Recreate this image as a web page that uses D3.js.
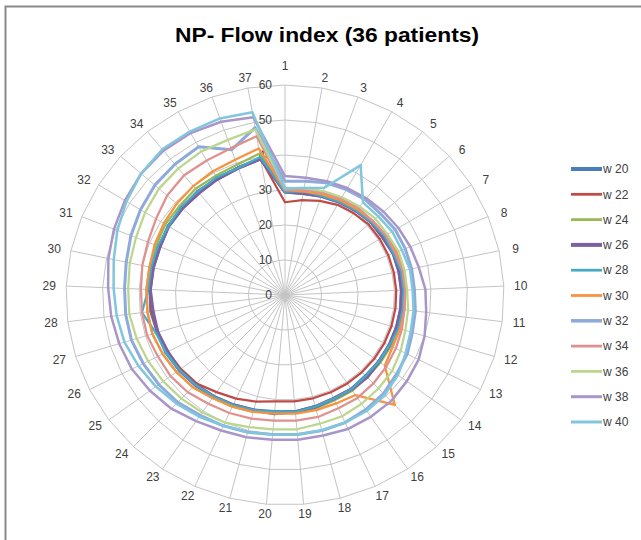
<!DOCTYPE html>
<html>
<head>
<meta charset="utf-8">
<script src="https://cdn.jsdelivr.net/npm/d3@7"></script>
<style>
  html, body { margin: 0; padding: 0; background: #fff; }
  svg text { font-family: "Liberation Sans", Arial, sans-serif; }
</style>
</head>
<body>
<svg id="chart" width="641" height="540"></svg>
<script>
// categories (spokes) 1..37
const categories = d3.range(1, 38).map(String);
const valueTicks = [0, 10, 20, 30, 40, 50, 60];
const seriesNames = ["w 20", "w 22", "w 24", "w 26", "w 28", "w 30", "w 32", "w 34", "w 36", "w 38", "w 40"];
const seriesColors = ["#4a7ebb", "#be4b48", "#98b954", "#7d60a0", "#46aac5", "#f69240",
                      "#8eaadb", "#e0908f", "#bcd68e", "#a996c9", "#80c6dc"];
const seriesWidths = [3.5, 2.25, 2.25, 3.5, 2.25, 2.25, 3, 2.25, 2.25, 2.5, 2.5];

// values, one per spoke
const w20 = [29.5,29.5,30,30.5,31,31.5,31.5,32,32,32,32,32,32,32,32,32.5,32.5,33,33.5,33.5,34,34.5,35,35.5,36,36.5,36.5,37,37,37,37,37.5,37.5,38,38,38.5,39.5];
const w22 = [26.5,27.5,28.5,29.5,30,30.5,30.5,30.5,30.5,30.5,30.5,30.5,30.5,30.5,30.5,30.5,30.5,30.5,30.5,30.5,31.5,32.5,33.5,35,35.5,36,36.5,37,37,37,37,37.5,37.5,38,38,38.5,39.5];
const w24 = [30,30,30.5,31,31.5,32,32,32.5,32.5,32.5,32.5,32.5,32.5,32.5,32.5,33,33,33.5,33.5,33.5,34.5,35,35.5,36.5,37,37.5,38,38,38,38,38,38.5,38.5,39,39,39.5,41];
const w26 = [29.5,29.5,30,30.5,31,31.5,31.5,32,32,32,32,32,32,32,32.5,32.5,32.5,33,33.5,34,34,34.5,35,35.5,36,36,36.5,36.5,37,37,37,37.5,37.5,37.5,38,38.5,39.5];
const w28 = [29.5,30,30,30.5,31,31.5,32,32,32.5,32.5,32.5,32.5,32,32,32,32.5,32.5,33,33.5,33.5,34,34.5,35,35.5,36,36.5,37,39.5,37.5,37.5,37.5,37.5,38,38,38.5,38.5,40];
const w30 = [30,30,30.5,31,31.5,32,32.5,33,33,33,33,33,33,34,43.5,34.5,34,34,34,34,34.5,35,35.5,36.5,37,37.5,38,38,38,38,38.5,39,39.5,40,40.5,41,42.5];
const w32 = [32.5,33,34,34.5,35,35,35.5,35.5,35.5,35.5,36,36.5,37.5,38,39,39.5,40,40,40,40,40.5,41,41.5,42.5,43,43.5,44,44,44,44.5,45.5,46.5,47.5,48,48.5,44,48.5];
const w34 = [30,30.5,31,31.5,32,32,32.5,32.5,33,33,33,33.5,34,34.5,35,35.5,35.5,36,36,36,36.5,37,37.5,38.5,39,39,39.5,39.5,39.5,40,40.5,41.5,43,44,44,44.5,46];
const w36 = [30.5,31,31.5,32,32.5,33,33,33.5,33.5,33.5,34,34.5,35.5,36.5,37,37.5,38,38,38.5,38.5,39,40,40.5,41,41.5,42,42.5,43,43,43.5,44,45,46,46.5,47,47,48];
const w38 = [34,34,34.5,35,35.5,36,36.5,37,37.5,38.5,39,40,41,41.5,42,42,42,41.5,41.5,41.5,42,42.5,43.5,45,46,47,47.5,48,48.5,49.5,50.5,51.5,52.5,53,53,52.5,51.5];
const w40 = [30.5,31,32.5,42.5,34,34,34.5,34.5,35,35,35.5,36,37,38.5,39.5,40,40,40,40,40,40.5,41,42,43,44,45,46,46.5,47,48,49.5,51,52.5,53.5,53.5,53.5,53];

const seriesValues = [w20, w22, w24, w26, w28, w30, w32, w34, w36, w38, w40];

const svg = d3.select("#chart");
const cx = 285, cy = 295;

// the plot is a little wider than tall
const rX = d3.scaleLinear().domain([0, 60]).range([0, 219]);
const rY = d3.scaleLinear().domain([0, 60]).range([0, 210]);
const angle = d3.scalePoint().domain(categories).range([0, 2 * Math.PI * 36 / 37]);

const px = (cat, v) => cx + rX(v) * Math.sin(angle(cat));
const py = (cat, v) => cy - rY(v) * Math.cos(angle(cat));

// chart area border
svg.append("rect")
  .attr("x", 5.5).attr("y", 6.5)
  .attr("width", 700).attr("height", 600)
  .attr("fill", "#fff")
  .attr("stroke", "#8a8a8a")
  .attr("stroke-width", 2);

// title
svg.append("text")
  .attr("x", 327).attr("y", 42)
  .attr("text-anchor", "middle")
  .attr("font-size", 21)
  .attr("font-weight", "bold")
  .attr("fill", "#000")
  .attr("textLength", 304)
  .attr("lengthAdjust", "spacingAndGlyphs")
  .text("NP- Flow index (36 patients)");

const g = svg.append("g");

// rings (polygons)
const ringLine = d3.line().curve(d3.curveLinearClosed);
valueTicks.slice(1).forEach(t => {
  g.append("path")
    .attr("d", ringLine(categories.map(c => [px(c, t), py(c, t)])))
    .attr("fill", "none")
    .attr("stroke", "#c4c4c4")
    .attr("stroke-width", 1);
});

// spokes
g.selectAll("line.spoke")
  .data(categories)
  .join("line")
  .attr("class", "spoke")
  .attr("x1", cx).attr("y1", cy)
  .attr("x2", d => px(d, 60)).attr("y2", d => py(d, 60))
  .attr("stroke", "#c4c4c4")
  .attr("stroke-width", 1);

// value labels along spoke 1
g.selectAll("text.val")
  .data(valueTicks)
  .join("text")
  .attr("class", "val")
  .attr("x", 272)
  .attr("y", d => py(categories[0], d))
  .attr("dy", "0.35em")
  .attr("text-anchor", "end")
  .attr("font-size", 12)
  .attr("fill", "#404040")
  .text(d => d);

// category labels
const labX = 236, labY = 220;
g.selectAll("text.cat")
  .data(categories)
  .join("text")
  .attr("class", "cat")
  .attr("x", d => cx + labX * Math.sin(angle(d)))
  .attr("y", (d, i) => cy - labY * Math.cos(angle(d)) - (i === 0 ? 9 : 0))
  .attr("dy", "0.35em")
  .attr("text-anchor", "middle")
  .attr("font-size", 12)
  .attr("fill", "#404040")
  .text(d => d);

// series
const line = d3.line()
  .x((v, i) => px(categories[i], v))
  .y((v, i) => py(categories[i], v))
  .curve(d3.curveLinearClosed);

g.selectAll("path.series")
  .data(seriesValues)
  .join("path")
  .attr("class", "series")
  .attr("d", line)
  .attr("fill", "none")
  .attr("stroke", (d, i) => seriesColors[i])
  .attr("stroke-width", (d, i) => seriesWidths[i])
  .attr("stroke-linejoin", "round");

// legend
const legendY = d3.scalePoint().domain(seriesNames).range([169, 422]);
const legend = svg.append("g");
legend.selectAll("line")
  .data(seriesNames)
  .join("line")
  .attr("x1", 571).attr("x2", 602)
  .attr("y1", d => legendY(d)).attr("y2", d => legendY(d))
  .attr("stroke", (d, i) => seriesColors[i])
  .attr("stroke-width", (d, i) => seriesWidths[i] + 0.5);
legend.selectAll("text")
  .data(seriesNames)
  .join("text")
  .attr("x", 603)
  .attr("y", d => legendY(d))
  .attr("dy", "0.35em")
  .attr("font-size", 12)
  .attr("fill", "#404040")
  .text(d => d);
</script>
</body>
</html>
